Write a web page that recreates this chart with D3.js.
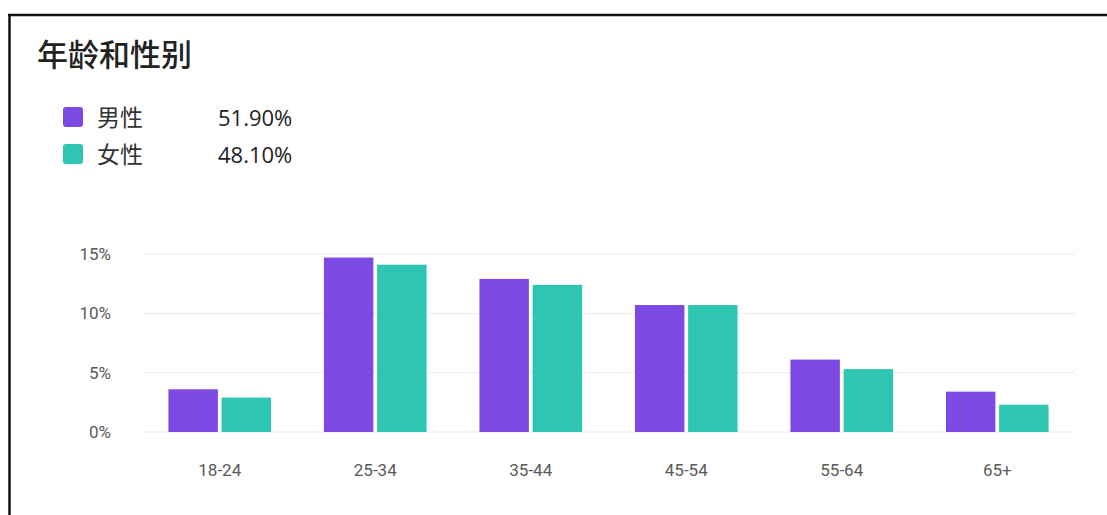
<!DOCTYPE html>
<html>
<head>
<meta charset="utf-8">
<script src="https://cdn.jsdelivr.net/npm/d3@7"></script>
<style>
  body { margin: 0; background: #fff; }
  svg { display: block; font-family: "Noto Sans CJK SC", "Noto Sans", sans-serif; }
</style>
</head>
<body>
<div id="wrapper"></div>
<script>
const ageGroups = ["18-24", "25-34", "35-44", "45-54", "55-64", "65+"]
const maleValues = [3.6, 14.7, 12.9, 10.7, 6.1, 3.4]
const femaleValues = [2.9, 14.1, 12.4, 10.7, 5.3, 2.3]
const seriesNames = ["男性", "女性"]
const seriesTotals = ["51.90%", "48.10%"]
const yTicks = [0, 5, 10, 15]

const colors = ["#7c4ae3", "#2ec5b2"]

const dimensions = {
  width: 1107,
  height: 515,
  margin: { top: 0, right: 32, bottom: 0, left: 142 },
}

const wrapper = d3.select("#wrapper")
  .append("svg")
    .attr("width", dimensions.width)
    .attr("height", dimensions.height)

// frame lines (top and left edge of the card)
wrapper.append("line")
  .attr("x1", 8).attr("x2", dimensions.width)
  .attr("y1", 15).attr("y2", 15)
  .attr("stroke", "#111").attr("stroke-width", 2.5)
wrapper.append("line")
  .attr("x1", 9.5).attr("x2", 9.5)
  .attr("y1", 14).attr("y2", dimensions.height)
  .attr("stroke", "#111").attr("stroke-width", 2.5)

wrapper.append("text")
  .attr("x", 37)
  .attr("y", 66)
  .attr("font-size", 31)
  .attr("font-weight", 500)
  .attr("fill", "#222")
  .text("年龄和性别")

// legend
const legend = wrapper.append("g")
const legendRows = legend.selectAll("g")
  .data(seriesNames)
  .join("g")
    .attr("transform", (d, i) => `translate(63, ${107 + i * 37})`)
legendRows.append("rect")
  .attr("width", 20).attr("height", 20)
  .attr("rx", 3)
  .attr("fill", (d, i) => colors[i])
legendRows.append("text")
  .attr("x", 34).attr("y", 19)
  .attr("font-size", 23)
  .attr("fill", "#333")
  .text(d => d)
legendRows.append("text")
  .attr("x", 155).attr("y", 19)
  .attr("font-size", 22)
  .attr("font-family", "'Open Sans', 'Noto Sans', sans-serif")
  .attr("fill", "#222")
  .text((d, i) => seriesTotals[i])

const yScale = d3.scaleLinear()
  .domain([0, 15])
  .range([432, 254])

const xScale = d3.scaleBand()
  .domain(ageGroups)
  .range([dimensions.margin.left, dimensions.width - dimensions.margin.right])
  .paddingInner(0.34)
  .paddingOuter(0.17)

const xInner = d3.scaleBand()
  .domain([0, 1])
  .range([0, xScale.bandwidth()])
  .paddingInner(0.07)

// gridlines
wrapper.append("g")
  .selectAll("line")
  .data(yTicks)
  .join("line")
    .attr("x1", dimensions.margin.left)
    .attr("x2", dimensions.width - dimensions.margin.right)
    .attr("y1", d => yScale(d))
    .attr("y2", d => yScale(d))
    .attr("stroke", "#ececec")
    .attr("stroke-width", 1)

const yAxis = wrapper.append("g")
  .attr("transform", `translate(114, 0)`)
  .call(d3.axisLeft(yScale).tickValues(yTicks).tickSize(0).tickFormat(d => d + "%"))
yAxis.select(".domain").remove()
yAxis.selectAll("text")
  .attr("font-size", 17)
  .attr("font-family", "Roboto, 'Noto Sans', sans-serif")
  .attr("fill", "#5a5a5a")

const xAxis = wrapper.append("g")
  .attr("transform", `translate(0, 461)`)
  .call(d3.axisBottom(xScale).tickSize(0))
xAxis.select(".domain").remove()
xAxis.selectAll("text")
  .attr("font-size", 17)
  .attr("font-family", "Roboto, 'Noto Sans', sans-serif")
  .attr("fill", "#5a5a5a")

const groups = wrapper.append("g")
  .selectAll("g")
  .data(ageGroups)
  .join("g")
    .attr("transform", d => `translate(${xScale(d)}, 0)`)

groups.selectAll("rect")
  .data((d, i) => [maleValues[i], femaleValues[i]])
  .join("rect")
    .attr("x", (d, i) => xInner(i))
    .attr("width", xInner.bandwidth())
    .attr("y", d => yScale(d))
    .attr("height", d => yScale(0) - yScale(d))
    .attr("fill", (d, i) => colors[i])
</script>
</body>
</html>
